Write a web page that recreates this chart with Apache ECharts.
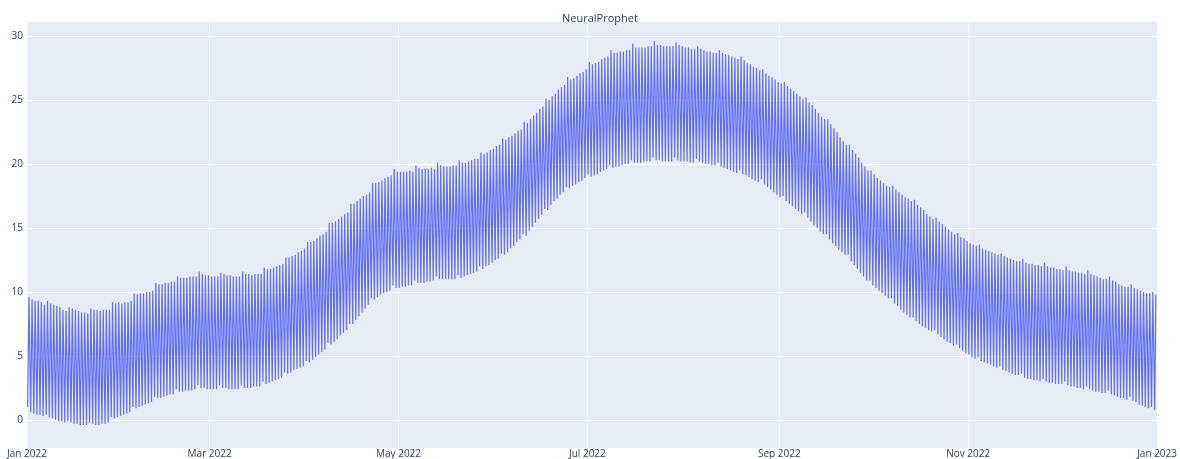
<!DOCTYPE html>
<html>
<head>
<meta charset="utf-8">
<script src="https://cdn.jsdelivr.net/npm/echarts@6/dist/echarts.min.js"></script>
<style>
html,body{margin:0;padding:0;background:#fff;}
#chart{width:1180px;height:459px;}
</style>
</head>
<body>
<div id="chart"></div>
<script>
// Daily maxima (one per day, 2022-01-01 .. 2022-12-31)
const dailyHigh = [
  9.6, 9.4, 9.3, 9.3, 9.2, 9.0,
  9.3, 9.1, 9.0, 8.9, 8.8, 8.6, 8.5,
  8.8, 8.7, 8.6, 8.5, 8.4, 8.4, 8.3,
  8.7, 8.6, 8.6, 8.5, 8.6, 8.6, 8.6,
  9.2, 9.1, 9.2, 9.1, 9.2, 9.2, 9.3,
  9.9, 9.8, 9.9, 9.9, 10.0, 10.0, 10.1,
  10.7, 10.6, 10.6, 10.7, 10.7, 10.8, 10.8,
  11.2, 11.1, 11.1, 11.1, 11.2, 11.2, 11.2,
  11.6, 11.4, 11.3, 11.3, 11.2, 11.2, 11.2,
  11.5, 11.4, 11.3, 11.3, 11.2, 11.2, 11.2,
  11.6, 11.4, 11.4, 11.3, 11.4, 11.4, 11.4,
  11.9, 11.8, 11.8, 11.9, 12.0, 12.1, 12.2,
  12.7, 12.7, 12.8, 12.9, 13.1, 13.2, 13.4,
  13.9, 13.9, 14.0, 14.2, 14.4, 14.5, 14.7,
  15.4, 15.4, 15.5, 15.7, 15.9, 16.1, 16.2,
  16.9, 16.9, 17.1, 17.3, 17.5, 17.6, 17.8,
  18.5, 18.5, 18.6, 18.7, 18.9, 19.0, 19.1,
  19.6, 19.4, 19.4, 19.4, 19.4, 19.5, 19.4,
  19.9, 19.7, 19.6, 19.6, 19.6, 19.7, 19.6,
  20.1, 19.9, 19.8, 19.8, 19.8, 19.9, 19.9,
  20.3, 20.1, 20.1, 20.2, 20.3, 20.4, 20.4,
  20.9, 20.8, 20.9, 21.1, 21.2, 21.4, 21.5,
  22.0, 21.9, 22.1, 22.2, 22.4, 22.6, 22.7,
  23.3, 23.2, 23.5, 23.8, 24.0, 24.3, 24.5,
  25.1, 25.0, 25.3, 25.5, 25.8, 26.0, 26.2,
  26.8, 26.6, 26.7, 26.9, 27.1, 27.2, 27.4,
  28.0, 27.8, 27.9, 28.0, 28.2, 28.3, 28.4,
  28.9, 28.7, 28.7, 28.8, 28.8, 28.9, 28.9,
  29.4, 29.1, 29.1, 29.1, 29.1, 29.2, 29.2,
  29.6, 29.3, 29.3, 29.2, 29.2, 29.2, 29.2,
  29.5, 29.3, 29.2, 29.1, 29.1, 29.0, 29.0,
  29.2, 29.0, 28.9, 28.8, 28.8, 28.7, 28.7,
  28.9, 28.7, 28.6, 28.5, 28.4, 28.3, 28.2,
  28.4, 28.1, 27.9, 27.8, 27.6, 27.5, 27.3,
  27.4, 27.1, 26.9, 26.8, 26.6, 26.4, 26.3,
  26.4, 26.1, 25.9, 25.7, 25.5, 25.3, 25.1,
  25.2, 24.8, 24.6, 24.3, 24.0, 23.7, 23.5,
  23.5, 23.1, 22.8, 22.5, 22.1, 21.8, 21.5,
  21.5, 21.1, 20.8, 20.5, 20.1, 19.8, 19.5,
  19.5, 19.2, 18.9, 18.7, 18.5, 18.3, 18.2,
  18.3, 18.0, 17.8, 17.6, 17.4, 17.3, 17.1,
  17.2, 16.8, 16.6, 16.4, 16.1, 15.9, 15.7,
  15.8, 15.5, 15.3, 15.1, 14.9, 14.7, 14.5,
  14.6, 14.3, 14.2, 14.0, 13.8, 13.7, 13.6,
  13.7, 13.4, 13.3, 13.2, 13.1, 13.0, 12.9,
  13.0, 12.8, 12.7, 12.6, 12.5, 12.4, 12.4,
  12.6, 12.3, 12.2, 12.2, 12.1, 12.1, 12.0,
  12.3, 12.0, 11.9, 11.9, 11.8, 11.8, 11.7,
  12.0, 11.7, 11.6, 11.6, 11.5, 11.5, 11.4,
  11.7, 11.4, 11.3, 11.2, 11.1, 11.0, 11.0,
  11.2, 10.9, 10.8, 10.6, 10.5, 10.4, 10.4,
  10.6, 10.3, 10.2, 10.1, 10.0, 9.9, 9.9,
  10.0, 9.8
];
// Daily minima (one per day)
const dailyLow = [
  1.0, 0.6, 0.5, 0.4, 0.4, 0.3,
  0.4, 0.2, 0.1, 0.0, -0.1, -0.1, -0.2,
  -0.1, -0.2, -0.3, -0.3, -0.4, -0.4, -0.4,
  -0.2, -0.3, -0.4, -0.4, -0.3, -0.3, -0.2,
  0.2, 0.1, 0.2, 0.3, 0.4, 0.5, 0.6,
  1.0, 0.9, 1.0, 1.1, 1.2, 1.3, 1.4,
  1.8, 1.7, 1.7, 1.8, 1.9, 2.0, 2.0,
  2.4, 2.2, 2.2, 2.3, 2.3, 2.3, 2.4,
  2.7, 2.5, 2.5, 2.4, 2.4, 2.4, 2.4,
  2.7, 2.5, 2.5, 2.4, 2.4, 2.4, 2.4,
  2.7, 2.5, 2.5, 2.5, 2.6, 2.6, 2.6,
  3.0, 2.8, 2.9, 3.0, 3.1, 3.2, 3.3,
  3.7, 3.6, 3.7, 3.9, 4.0, 4.1, 4.2,
  4.6, 4.5, 4.7, 4.9, 5.1, 5.3, 5.5,
  6.0, 5.9, 6.1, 6.3, 6.6, 6.8, 7.0,
  7.5, 7.5, 7.8, 8.1, 8.4, 8.7, 9.0,
  9.5, 9.4, 9.6, 9.8, 9.9, 10.0, 10.1,
  10.5, 10.3, 10.3, 10.4, 10.4, 10.5, 10.5,
  10.9, 10.7, 10.7, 10.7, 10.8, 10.8, 10.9,
  11.2, 11.0, 11.0, 11.0, 11.0, 11.0, 11.0,
  11.3, 11.1, 11.2, 11.3, 11.4, 11.5, 11.6,
  12.0, 11.8, 12.0, 12.1, 12.3, 12.5, 12.6,
  13.0, 12.9, 13.1, 13.4, 13.6, 13.9, 14.1,
  14.5, 14.4, 14.8, 15.1, 15.4, 15.7, 16.0,
  16.5, 16.4, 16.8, 17.1, 17.3, 17.6, 17.8,
  18.2, 18.1, 18.3, 18.4, 18.6, 18.7, 18.9,
  19.2, 19.0, 19.1, 19.2, 19.4, 19.5, 19.6,
  19.9, 19.7, 19.8, 19.8, 19.9, 20.0, 20.0,
  20.3, 20.1, 20.1, 20.1, 20.2, 20.2, 20.2,
  20.5, 20.3, 20.3, 20.2, 20.2, 20.2, 20.2,
  20.5, 20.3, 20.2, 20.2, 20.2, 20.1, 20.1,
  20.4, 20.2, 20.1, 20.0, 20.0, 19.9, 19.9,
  20.1, 19.8, 19.7, 19.6, 19.5, 19.4, 19.3,
  19.5, 19.2, 19.1, 19.0, 18.8, 18.7, 18.6,
  18.8, 18.4, 18.2, 18.0, 17.8, 17.6, 17.4,
  17.5, 17.1, 16.9, 16.7, 16.5, 16.3, 16.1,
  16.2, 15.8, 15.5, 15.2, 15.0, 14.7, 14.5,
  14.5, 14.1, 13.8, 13.6, 13.3, 13.1, 12.9,
  12.9, 12.4, 12.1, 11.8, 11.5, 11.2, 10.9,
  10.9, 10.5, 10.3, 10.1, 9.9, 9.7, 9.5,
  9.5, 9.1, 8.9, 8.6, 8.4, 8.2, 8.0,
  8.0, 7.7, 7.5, 7.3, 7.2, 7.0, 6.9,
  7.0, 6.7, 6.5, 6.3, 6.1, 6.0, 5.8,
  5.9, 5.6, 5.4, 5.2, 5.1, 4.9, 4.8,
  4.9, 4.6, 4.5, 4.4, 4.3, 4.2, 4.1,
  4.2, 3.9, 3.8, 3.7, 3.6, 3.5, 3.5,
  3.6, 3.3, 3.2, 3.2, 3.1, 3.1, 3.0,
  3.2, 3.0, 2.9, 2.9, 2.8, 2.8, 2.8,
  3.0, 2.7, 2.6, 2.6, 2.5, 2.5, 2.4,
  2.6, 2.4, 2.3, 2.2, 2.2, 2.1, 2.1,
  2.3, 2.0, 1.9, 1.8, 1.7, 1.7, 1.6,
  1.8, 1.5, 1.4, 1.2, 1.1, 1.0, 0.9,
  1.0, 0.8
];
const startDate = '2022-01-01';
const endDate = '2023-01-01';
const xTickDates = ['2022-01-01','2022-03-01','2022-05-01','2022-07-01','2022-09-01','2022-11-01','2023-01-01'];
const xTickLabels = ['Jan 2022','Mar 2022','May 2022','Jul 2022','Sep 2022','Nov 2022','Jan 2023'];
const yTicks = [0, 5, 10, 15, 20, 25, 30];
const titleText = 'NeuralProphet';

const HOUR = 3600 * 1000, DAY = 24 * HOUR;
const t0 = Date.parse(startDate + 'T00:00:00Z');
const seriesData = [];
for (let i = 0; i < dailyHigh.length; i++) {
  seriesData.push([t0 + i * DAY + 5 * HOUR, dailyLow[i]]);
  seriesData.push([t0 + i * DAY + 15 * HOUR, dailyHigh[i]]);
}
const xTickVals = xTickDates.map(d => Date.parse(d + 'T00:00:00Z'));

const font = '"Open Sans", verdana, arial, sans-serif';
const chart = echarts.init(document.getElementById('chart'), null, {renderer: 'canvas'});
chart.setOption({
  animation: false,
  backgroundColor: '#ffffff',
  title: {
    text: titleText,
    left: 557, top: 8,
    textStyle: {fontFamily: font, fontSize: 11, fontWeight: 'normal', color: '#2a3f5f'}
  },
  grid: {
    left: 27, right: 17, top: 22, bottom: 11,
    show: true, backgroundColor: '#E5ECF6', borderWidth: 0,
    containLabel: false
  },
  xAxis: {
    type: 'value',
    min: Date.parse(startDate + 'T00:00:00Z'),
    max: Date.parse(endDate + 'T00:00:00Z'),
    axisLine: {show: false},
    axisTick: {show: false, customValues: xTickVals},
    axisLabel: {
      customValues: xTickVals,
      formatter: v => { const k = xTickVals.indexOf(v); return k >= 0 ? xTickLabels[k] : ''; },
      color: '#2a3f5f', fontFamily: font, fontSize: 10, margin: 1,
      showMinLabel: true, showMaxLabel: true, hideOverlap: false
    },
    splitLine: {show: true, lineStyle: {color: 'rgba(255,255,255,0.55)', width: 1}}
  },
  yAxis: {
    type: 'value',
    min: -2.2, max: 31.1,
    axisLine: {show: false},
    axisTick: {show: false, customValues: yTicks},
    axisLabel: {customValues: yTicks, color: '#2a3f5f', fontFamily: font, fontSize: 10, margin: 4},
    splitLine: {show: true, lineStyle: {color: '#ffffff', width: 1}}
  },
  series: [{
    type: 'line',
    data: seriesData,
    showSymbol: false,
    symbol: 'none',
    lineStyle: {color: '#636EFA', width: 1.2},
    emphasis: {disabled: true}
  }]
});
</script>
</body>
</html>
